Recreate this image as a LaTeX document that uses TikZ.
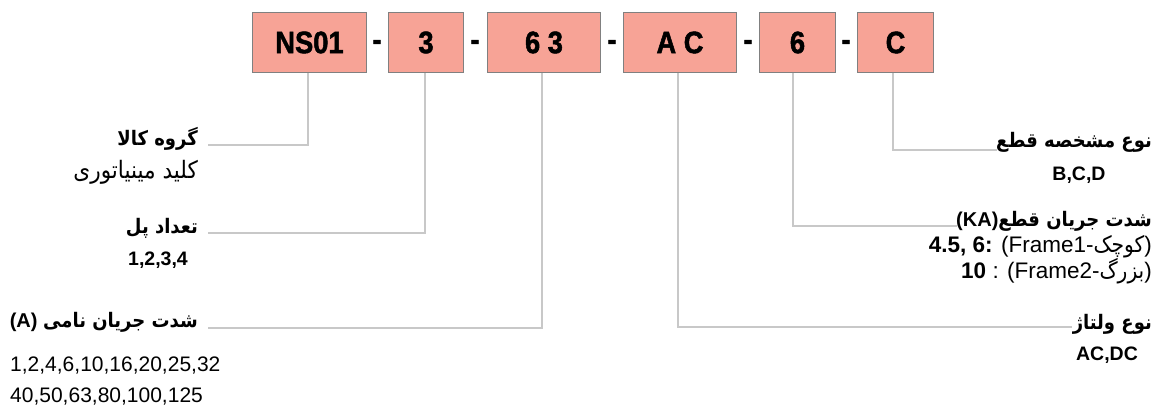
\documentclass[tikz,border=0pt]{standalone}
\usepackage{fontspec}
\setmainfont{Liberation Sans}
\newfontfamily\fa[Script=Arabic,FakeStretch=0.9]{DejaVu Sans}
\newfontfamily\boxfont[FakeStretch=0.88,FakeBold=1.6]{Liberation Sans}
\TeXXeTstate=1
\definecolor{salmon}{HTML}{F7A396}
\definecolor{boxline}{HTML}{808080}
\definecolor{conn}{HTML}{C8C8C8}
\tikzset{
  codebox/.style={draw=boxline, line width=1.6pt, fill=salmon, inner sep=0pt,
    minimum height=60pt, font=\boxfont\bfseries\fontsize{31}{31}\selectfont},
  sep/.style={inner sep=0pt, font=\boxfont\bfseries\fontsize{30}{30}\selectfont},
  link/.style={draw=conn, line width=1.2pt},
  ttl/.style={inner sep=0pt, font=\fa\bfseries\fontsize{20}{24}\selectfont},
  val/.style={inner sep=0pt, font=\fontsize{21}{24}\selectfont},
  valr/.style={inner sep=0pt, font=\fontsize{22.5}{24}\selectfont},
  valb/.style={inner sep=0pt, font=\bfseries\fontsize{19.5}{22}\selectfont},
}
\begin{document}
\begin{tikzpicture}[x=1pt,y=-1pt]
\useasboundingbox (0,0) rectangle (1160,406);
% code boxes
\node[codebox, minimum width=114pt] (b1) at (309.5,42.5) {NS01};
\node[codebox, minimum width=75pt] (b2) at (426,42.5) {3};
\node[codebox, minimum width=113pt] (b3) at (544,42.5) {6 3};
\node[codebox, minimum width=113pt] (b4) at (680,42.5) {A C};
\node[codebox, minimum width=76pt] (b5) at (797.5,42.5) {6};
\node[codebox, minimum width=76pt] (b6) at (895.5,42.5) {C};
\node[sep] (d1) at (377,45) {-};
\node[sep] (d2) at (475,45) {-};
\node[sep] (d3) at (612,45) {-};
\node[sep] (d4) at (748,45) {-};
\node[sep] (d5) at (846,45) {-};
% left labels
\node[ttl, anchor=base east] (t1) at (198,146) {\beginR گروه کالا\endR};
\node[inner sep=0pt, anchor=base east, font=\fa\fontsize{24}{28}\selectfont] (v1) at (198,179) {\beginR کلید مینیاتوری\endR};
\node[ttl, anchor=base east] (t2) at (198,234) {\beginR تعداد پل\endR};
\node[valb, anchor=base] (v2) at (158,266) {1,2,3,4};
\node[ttl, anchor=base east] (t3) at (198,327) {{\rmfamily\bfseries (A) }\beginR شدت جریان نامی\endR};
\node[val, anchor=base west] (v3a) at (10,371) {1,2,4,6,10,16,20,25,32};
\node[val, anchor=base west] (v3b) at (10,402) {40,50,63,80,100,125};
% right labels
\node[ttl, anchor=base east] (t6) at (1152,148) {\beginR نوع مشخصه قطع\endR};
\node[valb, anchor=base] (v6) at (1079,181) {B,C,D};
\node[ttl, anchor=base east] (t5) at (1152,227) {{\rmfamily\bfseries (KA)}\beginR شدت جریان قطع\endR};
\node[valr, anchor=base east] (v5a) at (1152,253) {\textbf{4.5, 6:} (Frame1-{\fa\beginR کوچک\endR})};
\node[valr, anchor=base east] (v5b) at (1152,279) {\textbf{10} : (Frame2-{\fa\beginR بزرگ\endR})};
\node[ttl, anchor=base east] (t4) at (1152,330) {\beginR نوع ولتاژ\endR};
\node[valb, anchor=base] (v4) at (1107,360) {AC,DC};
% connector ends
\coordinate (e1) at (208,145);
\coordinate (e2) at (208,233);
\coordinate (e3) at (208,328);
\coordinate (e4) at (1072,327);
\coordinate (e5) at (957,226);
\coordinate (e6) at (997,150);
\draw[link] (b1.south -| 308,0) |- (e1);
\draw[link] (b2.south -| 425,0) |- (e2);
\draw[link] (b3.south -| 542,0) |- (e3);
\draw[link] (b4.south -| 678,0) |- (e4);
\draw[link] (b5.south -| 793,0) |- (e5);
\draw[link] (b6.south -| 893,0) |- (e6);
\end{tikzpicture}
\end{document}
